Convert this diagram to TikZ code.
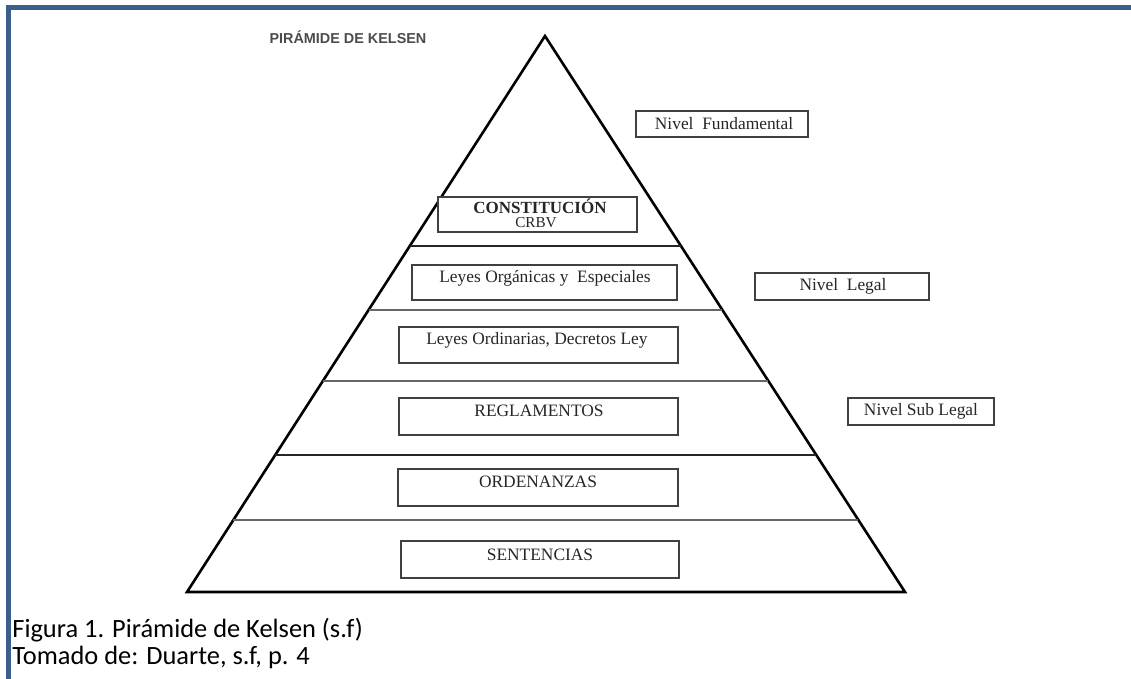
\documentclass[tikz,border=0pt]{standalone}
\usepackage{fontspec}
\setmainfont{Liberation Serif}
\newfontfamily\titlefont{Liberation Sans}
\newfontfamily\capfont{Carlito}
\usetikzlibrary{calc,fit}
\definecolor{kblue}{RGB}{59,94,140}
\tikzset{
  boxst/.style={draw=black!75, line width=0.8pt, inner sep=0pt, fill=white},
  lbl/.style={inner sep=0pt, font=\fontsize{8.7}{10}\selectfont, text=black!85},
  thickline/.style={line width=1.1pt, draw=black!85},
  thinline/.style={line width=0.7pt, draw=black!60},
  pyr/.style={line width=1.3pt, draw=black},
  captext/.style={inner sep=0pt, anchor=base west, font=\capfont\fontsize{13.2}{15}\selectfont}
}
\begin{document}
\begin{tikzpicture}[x=0.5pt, y=-0.5pt]
\useasboundingbox (0,0) rectangle (1131,679);
\fill[white] (0,0) rectangle (1131,679);
% border
\fill[kblue] (6,5.5) rectangle (1131,10.5);
\fill[kblue] (6,5.5) rectangle (11,679);
% title
\node[inner sep=0pt, font=\titlefont\bfseries\fontsize{7.2}{8}\selectfont, text=black!70] (title) at (348,37) {PIRÁMIDE DE KELSEN};
% pyramid
\coordinate (apex) at (545,36);
\coordinate (bl) at (187,592);
\coordinate (br) at (905,592);
\draw[pyr, line join=miter] (apex) -- (bl) -- (br) -- cycle;
\draw[thickline] ($(apex)!0.3777!(bl)$) -- ($(apex)!0.3777!(br)$);
\draw[thinline]  ($(apex)!0.4928!(bl)$) -- ($(apex)!0.4928!(br)$);
\draw[thinline]  ($(apex)!0.6205!(bl)$) -- ($(apex)!0.6205!(br)$);
\draw[thickline] ($(apex)!0.7536!(bl)$) -- ($(apex)!0.7536!(br)$);
\draw[thinline]  ($(apex)!0.8705!(bl)$) -- ($(apex)!0.8705!(br)$);
% boxes inside pyramid
\node[boxst, fit={(438,197)(637,232)}] (const) {};
\node[lbl, font=\bfseries\fontsize{8.5}{10}\selectfont] (constt) at (540,206) {CONSTITUCIÓN};
\node[lbl, font=\fontsize{7.6}{9}\selectfont] (crbv) at (536,223) {CRBV};
\node[boxst, fit={(412,265)(677,300)}] (org) {};
\node[lbl] (orgt) at (545,278) {Leyes Orgánicas y \ Especiales};
\node[boxst, fit={(399,327)(678,363)}] (ord) {};
\node[lbl] (ordt) at (537,340) {Leyes Ordinarias, Decretos Ley};
\node[boxst, fit={(399,398)(678,435)}] (reg) {};
\node[lbl] (regt) at (539,411) {REGLAMENTOS};
\node[boxst, fit={(398,469)(678,506)}] (orden) {};
\node[lbl] (ordent) at (538,482) {ORDENANZAS};
\node[boxst, fit={(401,541)(679,578)}] (sent) {};
\node[lbl] (sentt) at (540,555) {SENTENCIAS};
% level boxes
\node[boxst, fit={(636,111)(808,137)}] (nf) {};
\node[lbl] (nft) at (724,124) {Nivel \ Fundamental};
\node[boxst, fit={(755,273)(929,300)}] (nl) {};
\node[lbl] (nlt) at (843,286) {Nivel \ Legal};
\node[boxst, fit={(848,398)(994,425)}] (nsl) {};
\node[lbl] (nslt) at (921,411) {Nivel Sub Legal};
% caption
\node[captext] (cap1) at (12,637) {Figura 1. Pirámide de Kelsen (s.f)};
\node[captext] (cap2) at (12,664) {Tomado de: Duarte, s.f, p. 4};
\end{tikzpicture}
\end{document}
